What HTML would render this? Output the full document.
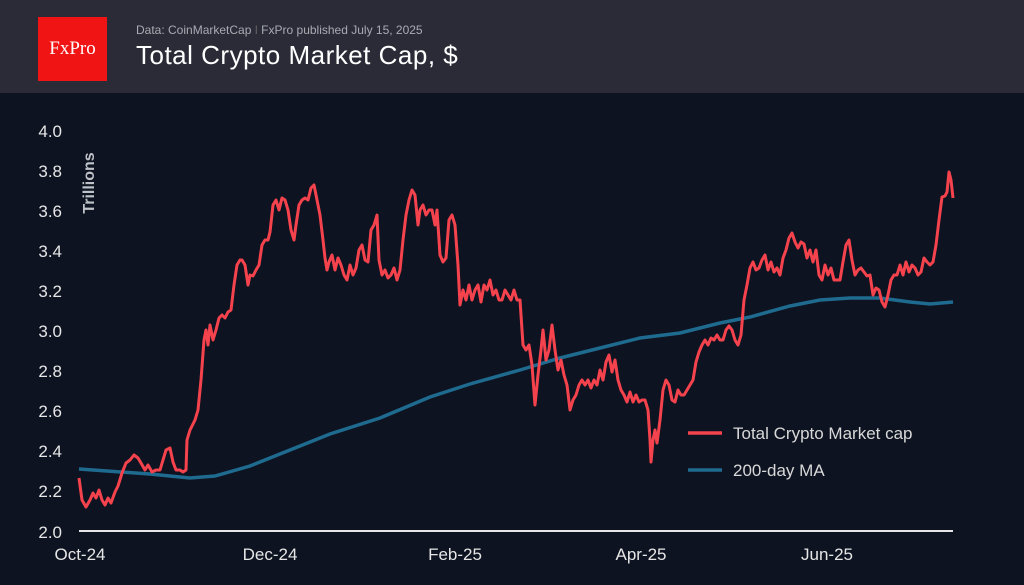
<!DOCTYPE html>
<html><head><meta charset="utf-8"><style>
body{margin:0;width:1024px;height:585px;background:#0d1320;overflow:hidden;font-family:"Liberation Sans",sans-serif}
.hdr{position:absolute;left:0;top:0;width:1024px;height:93px;background:#2a2b36}
.logo{position:absolute;left:38px;top:17px;width:69px;height:64px;background:#f01414;color:#fff;font-family:"Liberation Serif",serif;font-size:19px;line-height:64px;text-align:center}
.sub{position:absolute;left:136px;top:23px;color:#a9abb3;font-size:12px}
.ttl{position:absolute;left:136px;top:40px;color:#fff;font-size:26px;letter-spacing:0.5px}
</style></head><body>
<div class="hdr"></div>
<div class="logo">FxPro</div>
<div class="sub">Data: CoinMarketCap <span style="color:#666">ǀ</span> FxPro published July 15, 2025</div>
<div class="ttl">Total Crypto Market Cap, $</div>
<svg width="1024" height="585" style="position:absolute;left:0;top:0" font-family="Liberation Sans, sans-serif">
<g fill="#e6e6e6" font-size="17" text-anchor="end">
<text x="62" y="137">4.0</text><text x="62" y="177">3.8</text><text x="62" y="217">3.6</text><text x="62" y="257">3.4</text><text x="62" y="297">3.2</text><text x="62" y="337">3.0</text><text x="62" y="377">2.8</text><text x="62" y="417">2.6</text><text x="62" y="457">2.4</text><text x="62" y="497">2.2</text><text x="62" y="538">2.0</text>
</g>
<text transform="translate(94,183) rotate(-90)" fill="#bfc3c9" font-size="16" font-weight="bold" text-anchor="middle">Trillions</text>
<line x1="79" y1="531" x2="953" y2="531" stroke="#e6e6e6" stroke-width="2"/>
<g fill="#e6e6e6" font-size="17" text-anchor="middle">
<text x="80" y="560">Oct-24</text><text x="270" y="560">Dec-24</text><text x="455" y="560">Feb-25</text><text x="641" y="560">Apr-25</text><text x="827" y="560">Jun-25</text>
</g>
<polyline fill="none" stroke="#1f6a8f" stroke-width="3.5" points="79,469 150,474 190,478 215,476 250,466 290,450 330,434 380,418 430,397 470,384 520,370 560,358 600,348 640,338 680,333 720,323 750,317 790,306 820,300 850,298 880,298 910,302 930,304 953,302"/>
<polyline fill="none" stroke="#f5434e" stroke-width="3" stroke-linejoin="round" points="79,478 82,500 86,507 90,500 93,493 96,498 99,490 102,500 105,505 108,498 111,503 115,492 118,486 122,473 126,463 130,460 134,455 138,458 141,463 145,470 148,465 152,472 156,470 160,470 163,460 166,450 170,448 173,462 176,470 180,470 183,472 186,470 187,440 190,430 195,420 198,410 201,380 204,340 206,330 208,345 210,325 213,340 216,330 219,318 222,315 225,318 228,312 231,310 234,285 237,265 240,260 242,260 245,265 248,285 250,275 253,276 256,270 259,265 262,245 265,240 268,240 270,232 273,205 276,200 279,210 282,198 285,200 288,210 291,230 294,240 296,225 299,205 302,200 305,198 308,200 311,188 314,185 317,200 320,215 323,240 325,258 327,270 329,262 332,255 335,270 338,258 341,265 344,275 347,280 350,265 353,275 356,268 359,250 362,245 365,260 368,262 371,230 374,225 377,215 379,260 382,275 385,270 388,278 391,275 394,268 397,280 400,270 403,240 406,215 409,200 412,190 415,195 418,225 420,210 423,205 426,215 429,210 432,210 435,225 437,210 440,255 443,262 446,258 449,220 452,215 455,225 458,265 460,305 463,290 466,300 469,285 472,300 475,290 478,285 481,302 484,285 487,290 490,280 493,295 496,290 499,300 502,300 505,290 508,295 511,300 514,290 517,300 520,300 523,345 526,350 529,345 532,365 535,405 538,375 541,350 543,330 546,360 549,350 552,325 555,350 558,370 561,360 564,375 567,385 570,410 573,400 576,395 579,385 582,380 585,385 588,380 591,388 594,380 597,385 600,370 603,380 606,362 609,355 612,372 615,360 618,380 621,390 624,395 627,402 630,392 633,402 636,395 639,402 642,400 645,400 648,410 650,440 651,462 653,440 655,430 657,443 660,420 663,390 666,380 669,385 672,400 675,402 678,390 681,395 684,395 687,390 690,385 693,380 696,362 699,352 702,345 705,340 708,345 711,338 714,340 717,335 720,340 723,340 726,330 729,326 732,330 735,340 738,345 741,335 744,300 747,285 750,268 753,262 756,270 759,268 762,260 765,255 768,270 771,262 774,272 777,268 780,275 783,258 786,250 789,238 792,233 795,242 798,248 801,242 804,244 807,258 810,250 813,262 816,250 819,275 822,280 825,265 828,275 831,268 834,280 837,280 840,280 843,262 846,245 849,240 852,260 855,275 858,270 861,268 864,272 867,276 870,275 873,295 876,288 879,290 882,302 885,307 888,295 891,280 894,275 897,275 900,265 903,275 906,262 909,272 912,265 915,268 918,275 921,272 924,258 927,262 930,265 933,262 936,245 939,220 942,197 945,196 947,192 949,172 951,180 953,198"/>
<line x1="688" y1="433" x2="722" y2="433" stroke="#f5434e" stroke-width="3.5"/>
<line x1="688" y1="470" x2="722" y2="470" stroke="#1f6a8f" stroke-width="3.5"/>
<g fill="#d8d8d8" font-size="17"><text x="733" y="439">Total Crypto Market cap</text><text x="733" y="476">200-day MA</text></g>
</svg>
</body></html>
